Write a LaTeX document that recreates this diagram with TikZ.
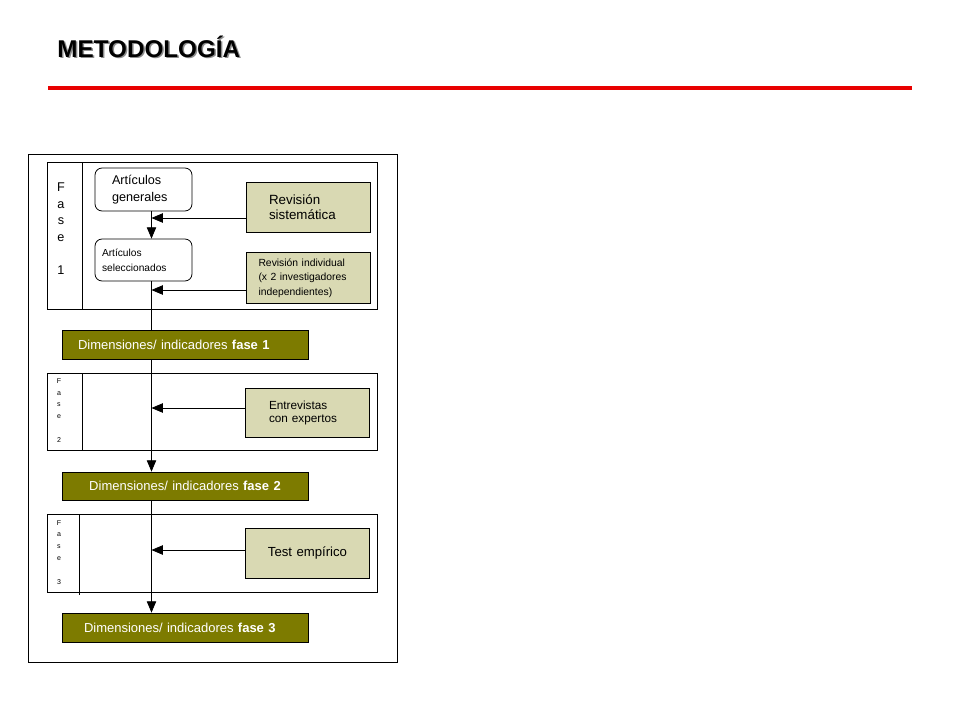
\documentclass[tikz,border=0pt]{standalone}
\usepackage{fontspec}
\setmainfont{Liberation Sans}
\usetikzlibrary{arrows}
\definecolor{oliva}{RGB}{125,123,0}
\definecolor{caqui}{RGB}{217,217,179}
\definecolor{rojo}{RGB}{232,0,0}

\begin{document}
\begin{tikzpicture}[->,>=triangle 45,x=0.02cm,y=-0.02cm,line width=0.45pt,
        caja/.style={draw,rounded corners=4pt,align=left,minimum width=1.94cm},
        fuente/.style={draw,fill=caqui,minimum width=2.48cm,minimum height=1cm},
        dim/.style={draw,fill=oliva,text=white,minimum width=4.92cm,
          font=\fontsize{7.4}{9}\selectfont},
        fase/.style={align=center,inner sep=0pt},
        marco/.style={-,draw}]
  \useasboundingbox (0,0) rectangle (960,720);

  \node[anchor=base west,inner sep=0pt,text=black!45,font=\fontsize{13.8}{16}\bfseries] (sombra) at (58.5,58.8) {METODOLOGÍA};
  \node[anchor=base west,inner sep=0pt,font=\fontsize{13.8}{16}\bfseries] (titulo) at (57,57.3) {METODOLOGÍA};
  \draw[-,rojo,line width=2.3pt] (48,88) -- (912,88);

  \draw[marco] (28,154) rectangle (397,662);
  \draw[marco] (47,162) rectangle (377,309);
  \draw[marco] (82,162) -- (82,309);
  \draw[marco] (47,373) rectangle (377,450);
  \draw[marco] (82,373) -- (82,450);
  \draw[marco] (47,514) rectangle (377,592);
  \draw[marco] (79,514) -- (79,595);

  \node[fase,font=\fontsize{7.2}{9.4}\selectfont] (f1) at (61,228.5) {F\\a\\s\\e\\[9.4pt]1};
  \node[fase,font=\fontsize{4}{6.8}\selectfont] (f2) at (59,410.5) {F\\a\\s\\e\\[6.8pt]2};
  \node[fase,font=\fontsize{4}{6.8}\selectfont] (f3) at (59,552.5) {F\\a\\s\\e\\[6.8pt]3};

  \node[caja,minimum height=0.86cm,text width=1.26cm,inner xsep=0.34cm,
    font=\fontsize{7.2}{9.6}\selectfont] (gen) at (143.5,189.5) {Artículos\\generales};
  \node[caja,minimum height=0.84cm,text width=1.66cm,inner xsep=0.14cm,
    font=\fontsize{5.8}{8.5}\selectfont] (sel) at (143.5,260) {Artículos\\seleccionados};

  \node[fuente,align=left,text width=1.56cm,inner xsep=0.46cm,
    font=\fontsize{7.6}{8.6}\selectfont] (rs) at (308,207) {Revisión\\sistemática};
  \node[fuente,align=left,text width=1.98cm,inner xsep=0.25cm,
    font=\fontsize{5.9}{8.2}\selectfont] (ri) at (308,278) {Revisión individual\\(x 2 investigadores\\independientes)};
  \node[fuente,align=left,text width=1.54cm,inner xsep=0.46cm,minimum height=0.98cm,
    font=\fontsize{6.7}{7.4}\selectfont] (ent) at (307.5,412.5) {Entrevistas\\con expertos};
  \node[fuente,align=center,text width=2.02cm,inner xsep=0.22cm,
    font=\fontsize{7.5}{9}\selectfont] (test) at (307.5,553) {Test empírico};

  \node[dim,minimum height=0.58cm,align=left,text width=4.28cm,inner xsep=0.32cm] (dim1)
    at (185,344.5) {Dimensiones/ indicadores \textbf{fase 1}};
  \node[dim,minimum height=0.56cm,align=center,text width=4.28cm,inner xsep=0.32cm] (dim2)
    at (185,486) {Dimensiones/ indicadores \textbf{fase 2}};
  \node[dim,minimum height=0.58cm,align=left,text width=4.04cm,inner xsep=0.44cm] (dim3)
    at (185,627.5) {Dimensiones/ indicadores \textbf{fase 3}};

  \coordinate (eje) at (151.5,0);
  \coordinate (a1) at (151.5,218);
  \coordinate (a2) at (151.5,290);
  \coordinate (a3) at (151.5,408);
  \coordinate (a4) at (151.5,550);

  \draw (gen.south -| eje) -- (sel.north -| eje);
  \draw[-] (sel.south -| eje) -- (dim1.north -| eje);
  \draw (dim1.south -| eje) -- (dim2.north -| eje);
  \draw (dim2.south -| eje) -- (dim3.north -| eje);

  \draw (rs.west |- a1) -- (a1);
  \draw (ri.west |- a2) -- (a2);
  \draw (ent.west |- a3) -- (a3);
  \draw (test.west |- a4) -- (a4);
\end{tikzpicture}
\end{document}
